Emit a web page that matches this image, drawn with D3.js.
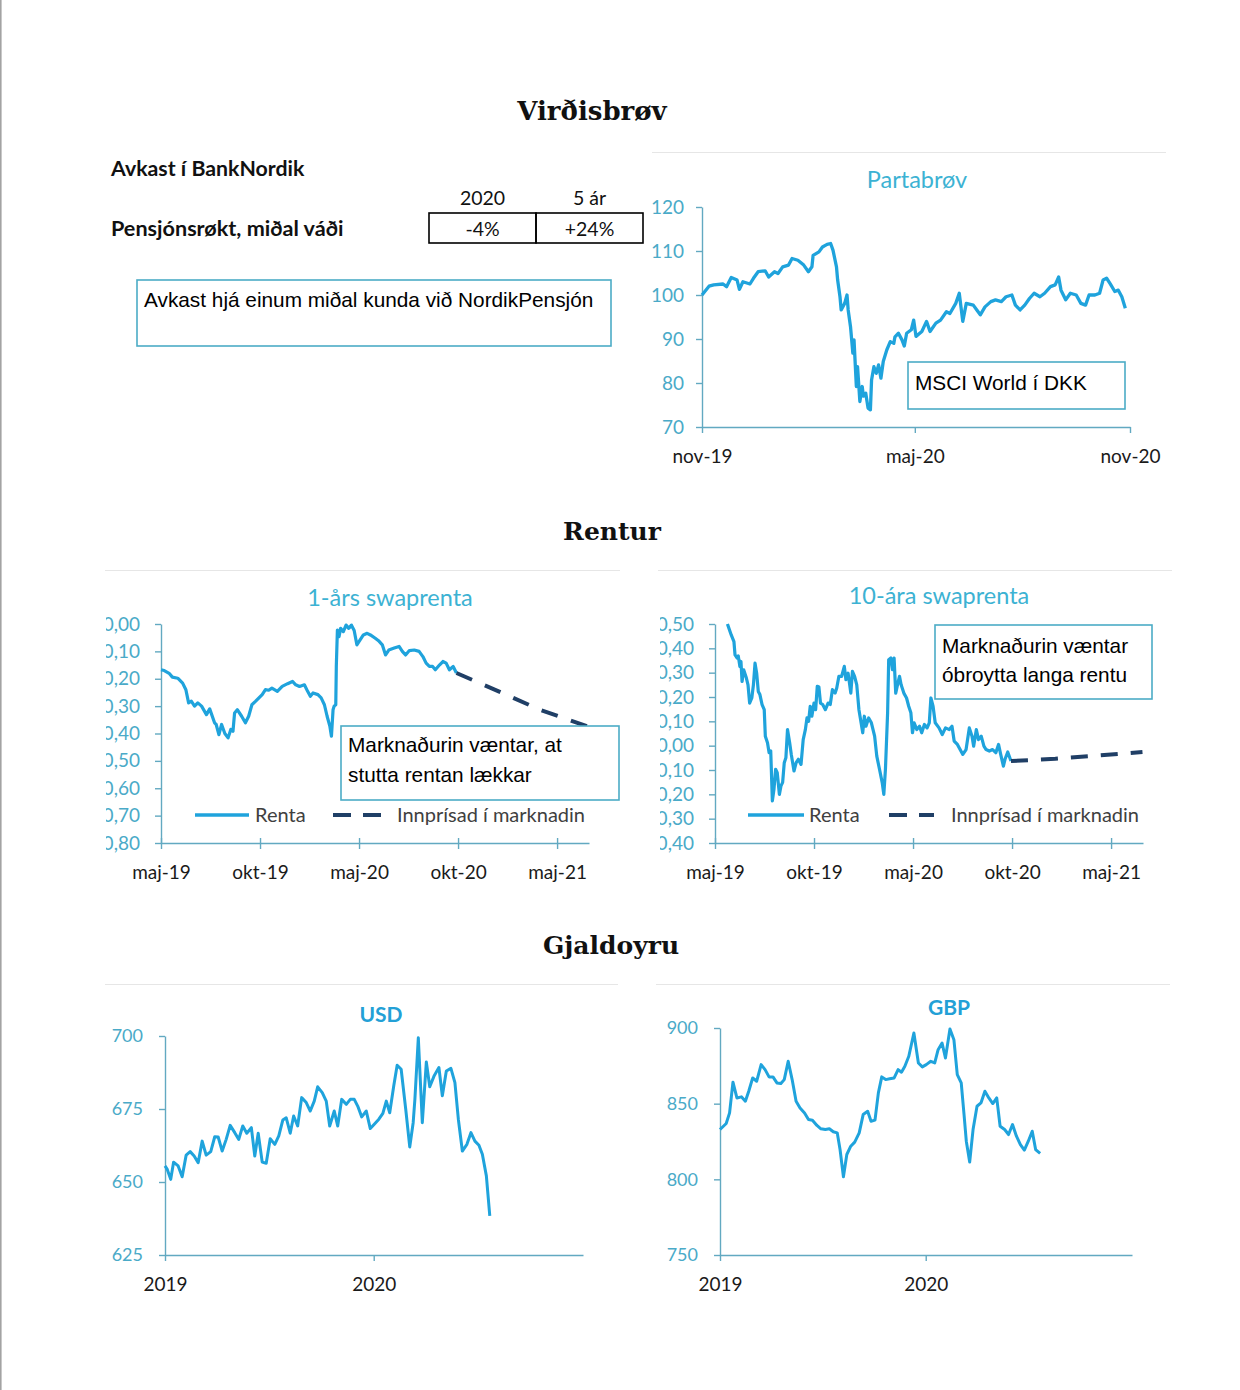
<!DOCTYPE html>
<html><head><meta charset="utf-8">
<script src="https://cdn.jsdelivr.net/npm/d3@7"></script>
<style>
html,body{margin:0;padding:0;background:#fff;}
svg{display:block;}
</style>
</head><body>
<script>
// ---------- DATA ----------
const sectionTitles = ["Virðisbrøv", "Rentur", "Gjaldoyru"];
const tableHeaders = ["2020", "5 ár"];
const tableValues = ["-4%", "+24%"];

const partabrovTickDates = ["2019-11-01", "2020-05-01", "2020-11-01"];
const partabrovTickLabels = ["nov-19", "maj-20", "nov-20"];
const partabrovYTicks = [70, 80, 90, 100, 110, 120];
const partabrov = [
["2019-11-01",100.0],["2019-11-07",102.0],["2019-11-11",102.3],["2019-11-19",102.5],["2019-11-22",101.9],["2019-11-26",104.0],["2019-12-01",103.4],["2019-12-03",101.3],["2019-12-06",103.0],["2019-12-12",102.5],["2019-12-15",103.8],["2019-12-19",105.3],["2019-12-25",105.5],["2019-12-28",104.1],["2020-01-02",105.3],["2020-01-05",104.9],["2020-01-09",106.4],["2020-01-14",106.8],["2020-01-17",108.3],["2020-01-22",107.9],["2020-01-27",106.8],["2020-01-31",105.3],["2020-02-03",106.4],["2020-02-04",109.0],["2020-02-09",109.8],["2020-02-12",110.9],["2020-02-16",111.5],["2020-02-19",111.7],["2020-02-21",110.2],["2020-02-24",106.4],["2020-02-25",103.4],["2020-02-27",99.6],["2020-02-28",96.6],["2020-03-02",98.1],["2020-03-04",100.0],["2020-03-05",96.6],["2020-03-07",92.8],["2020-03-09",86.8],["2020-03-10",89.8],["2020-03-12",79.2],["2020-03-13",83.7],["2020-03-15",75.8],["2020-03-17",79.2],["2020-03-18",77.0],["2020-03-20",77.7],["2020-03-22",74.3],["2020-03-24",73.9],["2020-03-25",80.7],["2020-03-27",83.7],["2020-03-29",82.2],["2020-03-31",84.1],["2020-04-02",81.1],["2020-04-04",84.9],["2020-04-07",87.5],["2020-04-10",89.4],["2020-04-13",89.0],["2020-04-14",90.5],["2020-04-17",91.3],["2020-04-20",89.8],["2020-04-22",88.4],["2020-04-24",91.3],["2020-04-28",92.1],["2020-04-30",94.3],["2020-05-02",90.6],["2020-05-07",91.7],["2020-05-11",94.0],["2020-05-14",91.7],["2020-05-19",93.6],["2020-05-23",94.3],["2020-05-28",96.2],["2020-05-31",95.8],["2020-06-05",98.1],["2020-06-08",100.4],["2020-06-11",94.0],["2020-06-14",98.1],["2020-06-20",97.7],["2020-06-23",96.6],["2020-06-26",95.5],["2020-06-30",97.3],["2020-07-05",98.5],["2020-07-09",98.9],["2020-07-14",98.5],["2020-07-18",99.6],["2020-07-23",100.0],["2020-07-26",97.7],["2020-07-30",96.6],["2020-08-03",97.7],["2020-08-07",99.2],["2020-08-11",100.4],["2020-08-16",99.6],["2020-08-20",100.4],["2020-08-25",101.9],["2020-08-29",102.3],["2020-09-01",104.1],["2020-09-03",101.1],["2020-09-07",98.9],["2020-09-11",100.4],["2020-09-16",100.0],["2020-09-20",98.1],["2020-09-24",97.7],["2020-09-27",100.0],["2020-10-02",100.0],["2020-10-06",100.4],["2020-10-09",103.4],["2020-10-12",103.8],["2020-10-15",102.6],["2020-10-19",100.8],["2020-10-22",101.1],["2020-10-25",99.6],["2020-10-28",97.0]
];

const swapTickDates = ["2019-05-01", "2019-10-31", "2020-05-01", "2020-10-31", "2021-05-02"];
const swapTickLabels = ["maj-19", "okt-19", "maj-20", "okt-20", "maj-21"];
const swap1YTicks = [0, -0.1, -0.2, -0.3, -0.4, -0.5, -0.6, -0.7, -0.8];
const swap10YTicks = [0.5, 0.4, 0.3, 0.2, 0.1, 0, -0.1, -0.2, -0.3, -0.4];
const legendLabels = ["Renta", "Innprísad í marknadin"];

const swap1Renta = [
["2019-05-01",-0.167],["2019-05-07",-0.170],["2019-05-16",-0.180],["2019-05-22",-0.194],["2019-06-01",-0.198],["2019-06-10",-0.216],["2019-06-16",-0.240],["2019-06-21",-0.288],["2019-06-26",-0.282],["2019-07-02",-0.300],["2019-07-08",-0.288],["2019-07-15",-0.300],["2019-07-24",-0.331],["2019-07-30",-0.310],["2019-08-08",-0.361],["2019-08-11",-0.367],["2019-08-16",-0.404],["2019-08-21",-0.367],["2019-08-27",-0.400],["2019-09-02",-0.416],["2019-09-07",-0.385],["2019-09-11",-0.392],["2019-09-14",-0.325],["2019-09-19",-0.313],["2019-09-27",-0.337],["2019-10-04",-0.361],["2019-10-10",-0.337],["2019-10-16",-0.295],["2019-10-23",-0.282],["2019-10-29",-0.270],["2019-11-04",-0.258],["2019-11-10",-0.240],["2019-11-16",-0.242],["2019-11-22",-0.234],["2019-12-02",-0.246],["2019-12-11",-0.228],["2019-12-21",-0.218],["2019-12-30",-0.210],["2020-01-05",-0.222],["2020-01-12",-0.228],["2020-01-21",-0.222],["2020-01-27",-0.246],["2020-02-01",-0.264],["2020-02-06",-0.252],["2020-02-15",-0.258],["2020-02-21",-0.270],["2020-02-27",-0.295],["2020-03-03",-0.337],["2020-03-08",-0.373],["2020-03-11",-0.410],["2020-03-14",-0.313],["2020-03-16",-0.300],["2020-03-19",-0.295],["2020-03-20",-0.155],["2020-03-22",-0.022],["2020-03-25",-0.046],["2020-03-28",-0.016],["2020-04-02",-0.028],["2020-04-07",-0.004],["2020-04-12",-0.016],["2020-04-17",-0.004],["2020-04-22",-0.024],["2020-04-27",-0.076],["2020-05-03",-0.058],["2020-05-09",-0.040],["2020-05-16",-0.034],["2020-05-22",-0.040],["2020-05-31",-0.052],["2020-06-06",-0.061],["2020-06-13",-0.076],["2020-06-19",-0.113],["2020-06-25",-0.095],["2020-07-05",-0.088],["2020-07-14",-0.082],["2020-07-20",-0.100],["2020-07-26",-0.113],["2020-08-02",-0.097],["2020-08-11",-0.095],["2020-08-20",-0.100],["2020-08-27",-0.119],["2020-09-02",-0.143],["2020-09-08",-0.155],["2020-09-14",-0.155],["2020-09-19",-0.167],["2020-09-27",-0.149],["2020-10-03",-0.137],["2020-10-09",-0.143],["2020-10-15",-0.167],["2020-10-22",-0.155],["2020-10-25",-0.167],["2020-10-28",-0.179]
];
const swap1Market = [["2020-10-28",-0.179],["2021-01-14",-0.246],["2021-03-31",-0.313],["2021-06-26",-0.373]];

const swap10Renta = [
["2019-05-24",0.500],["2019-05-31",0.455],["2019-06-05",0.428],["2019-06-07",0.373],["2019-06-11",0.360],["2019-06-13",0.369],["2019-06-16",0.325],["2019-06-18",0.346],["2019-06-20",0.264],["2019-06-23",0.312],["2019-06-28",0.278],["2019-07-01",0.250],["2019-07-04",0.175],["2019-07-08",0.196],["2019-07-11",0.250],["2019-07-14",0.339],["2019-07-17",0.298],["2019-07-20",0.223],["2019-07-23",0.210],["2019-07-27",0.169],["2019-07-31",0.148],["2019-08-02",0.039],["2019-08-06",0.012],["2019-08-09",-0.029],["2019-08-12",-0.022],["2019-08-15",-0.227],["2019-08-18",-0.179],["2019-08-21",-0.097],["2019-08-24",-0.111],["2019-08-28",-0.200],["2019-08-31",-0.165],["2019-09-03",-0.151],["2019-09-06",-0.070],["2019-09-09",-0.050],["2019-09-12",0.066],["2019-09-16",0.012],["2019-09-19",-0.036],["2019-09-24",-0.104],["2019-09-28",-0.070],["2019-10-02",-0.056],["2019-10-07",-0.077],["2019-10-11",0.025],["2019-10-15",0.066],["2019-10-18",0.114],["2019-10-21",0.100],["2019-10-24",0.162],["2019-10-27",0.121],["2019-10-31",0.175],["2019-11-03",0.148],["2019-11-06",0.244],["2019-11-09",0.241],["2019-11-12",0.175],["2019-11-16",0.169],["2019-11-21",0.148],["2019-11-26",0.175],["2019-11-30",0.169],["2019-12-04",0.230],["2019-12-09",0.216],["2019-12-12",0.237],["2019-12-16",0.285],["2019-12-21",0.285],["2019-12-26",0.326],["2019-12-29",0.271],["2020-01-02",0.298],["2020-01-07",0.216],["2020-01-10",0.305],["2020-01-14",0.285],["2020-01-18",0.250],["2020-01-22",0.148],["2020-01-26",0.094],["2020-01-29",0.053],["2020-02-01",0.121],["2020-02-04",0.080],["2020-02-09",0.114],["2020-02-14",0.094],["2020-02-20",0.039],["2020-02-24",-0.043],["2020-02-29",-0.097],["2020-03-05",-0.152],["2020-03-08",-0.200],["2020-03-11",-0.097],["2020-03-15",0.135],["2020-03-17",0.353],["2020-03-21",0.360],["2020-03-24",0.312],["2020-03-27",0.360],["2020-03-30",0.216],["2020-04-03",0.257],["2020-04-06",0.285],["2020-04-09",0.250],["2020-04-14",0.216],["2020-04-19",0.196],["2020-04-23",0.162],["2020-04-27",0.135],["2020-04-30",0.053],["2020-05-03",0.094],["2020-05-08",0.066],["2020-05-13",0.080],["2020-05-17",0.053],["2020-05-22",0.087],["2020-05-27",0.073],["2020-05-31",0.094],["2020-06-03",0.196],["2020-06-07",0.162],["2020-06-11",0.094],["2020-06-18",0.073],["2020-06-24",0.046],["2020-06-30",0.073],["2020-07-07",0.066],["2020-07-12",0.080],["2020-07-16",0.019],["2020-07-22",0.005],["2020-07-27",-0.016],["2020-08-01",-0.036],["2020-08-07",-0.016],["2020-08-13",0.073],["2020-08-18",0.039],["2020-08-21",-0.002],["2020-08-26",0.066],["2020-08-30",0.025],["2020-09-04",0.039],["2020-09-09",-0.002],["2020-09-13",-0.016],["2020-09-19",-0.022],["2020-09-25",-0.016],["2020-10-01",-0.029],["2020-10-06",0.005],["2020-10-10",-0.036],["2020-10-15",-0.084],["2020-10-18",-0.056],["2020-10-23",-0.026],["2020-10-29",-0.063]
];
const swap10Market = [["2020-10-29",-0.063],["2021-01-19",-0.054],["2021-04-10",-0.040],["2021-06-29",-0.026]];

const fxTickDates = ["2019-01-01", "2020-01-01"];
const fxTickLabels = ["2019", "2020"];
const usdYTicks = [625, 650, 675, 700];
const gbpYTicks = [750, 800, 850, 900];
const usd = [
["2019-01-01",655.5],["2019-01-05",654.3],["2019-01-11",650.9],["2019-01-16",656.8],["2019-01-24",655.5],["2019-01-31",651.8],["2019-02-07",659.2],["2019-02-14",660.4],["2019-02-21",658.9],["2019-02-28",656.6],["2019-03-07",664.0],["2019-03-14",659.2],["2019-03-22",660.4],["2019-03-29",665.5],["2019-04-04",665.4],["2019-04-11",660.6],["2019-04-18",664.6],["2019-04-25",669.4],["2019-05-03",666.9],["2019-05-10",664.6],["2019-05-17",669.2],["2019-05-24",666.7],["2019-06-01",668.6],["2019-06-07",658.9],["2019-06-13",666.7],["2019-06-20",656.8],["2019-06-27",656.4],["2019-07-04",664.8],["2019-07-12",662.9],["2019-07-19",665.8],["2019-07-26",671.2],["2019-08-01",672.0],["2019-08-08",666.7],["2019-08-14",672.6],["2019-08-21",669.2],["2019-08-28",678.9],["2019-09-05",677.2],["2019-09-12",674.3],["2019-09-19",677.7],["2019-09-25",682.6],["2019-10-03",680.6],["2019-10-10",677.7],["2019-10-16",669.2],["2019-10-24",674.3],["2019-10-30",669.2],["2019-11-06",678.3],["2019-11-14",676.6],["2019-11-21",678.3],["2019-11-28",678.3],["2019-12-04",676.0],["2019-12-11",672.3],["2019-12-19",674.3],["2019-12-26",668.3],["2020-01-02",669.8],["2020-01-10",671.5],["2020-01-17",673.5],["2020-01-23",677.7],["2020-01-29",673.7],["2020-02-05",682.9],["2020-02-11",690.0],["2020-02-18",688.6],["2020-02-26",674.9],["2020-03-04",662.0],["2020-03-10",670.3],["2020-03-13",678.3],["2020-03-19",699.4],["2020-03-26",670.3],["2020-04-02",691.1],["2020-04-08",682.6],["2020-04-16",686.5],["2020-04-24",689.2],["2020-04-30",679.5],["2020-05-07",688.0],["2020-05-15",688.9],["2020-05-22",684.0],["2020-05-28",671.5],["2020-06-04",660.6],["2020-06-12",662.9],["2020-06-19",666.9],["2020-06-26",664.0],["2020-07-03",662.6],["2020-07-09",659.5],["2020-07-16",652.1],["2020-07-22",638.4]
];
const gbp = [
["2019-01-01",832.9],["2019-01-07",835.1],["2019-01-12",836.9],["2019-01-18",843.9],["2019-01-24",864.2],["2019-01-31",853.8],["2019-02-08",854.5],["2019-02-15",851.6],["2019-02-21",858.2],["2019-02-28",867.0],["2019-03-07",864.8],["2019-03-15",875.8],["2019-03-22",872.5],["2019-03-29",867.7],["2019-04-05",867.7],["2019-04-12",863.7],["2019-04-19",863.3],["2019-04-25",865.9],["2019-05-02",878.0],["2019-05-09",865.9],["2019-05-16",851.6],["2019-05-23",847.2],["2019-05-31",843.9],["2019-06-07",839.5],["2019-06-14",839.1],["2019-06-22",835.6],["2019-06-29",833.4],["2019-07-07",832.9],["2019-07-14",833.4],["2019-07-21",831.4],["2019-07-28",830.7],["2019-08-02",819.7],["2019-08-08",801.7],["2019-08-14",816.4],["2019-08-21",821.9],["2019-08-28",824.6],["2019-09-05",830.7],["2019-09-12",842.8],["2019-09-20",845.0],["2019-09-26",838.4],["2019-10-03",839.1],["2019-10-09",857.1],["2019-10-15",867.7],["2019-10-22",865.9],["2019-10-29",866.4],["2019-11-06",867.0],["2019-11-13",872.5],["2019-11-19",870.8],["2019-11-25",874.7],["2019-12-02",881.3],["2019-12-11",896.7],["2019-12-19",876.9],["2019-12-26",874.3],["2020-01-02",875.8],["2020-01-10",878.0],["2020-01-17",876.9],["2020-01-23",885.7],["2020-01-30",890.1],["2020-02-05",880.2],["2020-02-13",899.3],["2020-02-20",892.3],["2020-02-26",869.2],["2020-03-04",863.7],["2020-03-09",842.8],["2020-03-13",825.2],["2020-03-19",811.4],["2020-03-25",832.9],["2020-04-01",848.3],["2020-04-08",850.5],["2020-04-15",858.2],["2020-04-22",853.8],["2020-04-29",850.1],["2020-05-06",853.8],["2020-05-12",835.1],["2020-05-20",832.9],["2020-05-27",829.6],["2020-06-03",836.2],["2020-06-10",828.5],["2020-06-17",823.0],["2020-06-24",819.3],["2020-07-01",825.2],["2020-07-08",831.8],["2020-07-14",819.7],["2020-07-22",817.1]
];

// ---------- DRAWING ----------
const W = 1240, H = 1390;
const parse = d3.timeParse("%Y-%m-%d");
const LINE = "#1fa3dc", NAVY = "#203f66", TEAL = "#4aaac8", AXIS = "#62a9c1", BOX = "#4bacc6";
const SANS = "Lato, 'Open Sans', sans-serif";
const ARIAL = "'Liberation Sans', Arial, sans-serif";
const SERIF = "'DejaVu Serif', 'Liberation Serif', serif";

const svg = d3.select("body").append("svg").attr("width", W).attr("height", H);
svg.append("rect").attr("width", W).attr("height", H).attr("fill", "#fff");
svg.append("line").attr("x1", 0.8).attr("x2", 0.8).attr("y1", 0).attr("y2", H)
  .attr("stroke", "#a3a3a3").attr("stroke-width", 1.6);

function text(x, y, s, o = {}) {
  return svg.append("text").attr("x", x).attr("y", y).text(s)
    .attr("font-family", o.family || SANS).attr("font-size", o.size || 19)
    .attr("font-weight", o.weight || "normal").attr("fill", o.fill || "#111")
    .attr("text-anchor", o.anchor || "start");
}

// section titles
text(592, 120, sectionTitles[0], {family: SERIF, size: 26, weight: "bold", anchor: "middle"});
text(612, 540, sectionTitles[1], {family: SERIF, size: 25, weight: "bold", anchor: "middle"});
text(611, 954, sectionTitles[2], {family: SERIF, size: 25, weight: "bold", anchor: "middle"});

// top-left table
text(111, 176, "Avkast í BankNordik", {weight: "bold", size: 21.3});
text(111, 236, "Pensjónsrøkt, miðal váði", {weight: "bold", size: 21.6});
const colX = [429, 536, 643];
tableHeaders.forEach((h, i) => text((colX[i] + colX[i + 1]) / 2, 205, h, {anchor: "middle", size: 19.5}));
tableValues.forEach((v, i) => {
  svg.append("rect").attr("x", colX[i]).attr("y", 213).attr("width", colX[i + 1] - colX[i]).attr("height", 30)
    .attr("fill", "none").attr("stroke", "#000").attr("stroke-width", 1.6);
  text((colX[i] + colX[i + 1]) / 2, 236, v, {anchor: "middle", size: 19.5});
});

function box(x, y, w, h, lines, ys) {
  svg.append("rect").attr("x", x).attr("y", y).attr("width", w).attr("height", h)
    .attr("fill", "#fff").attr("stroke", BOX).attr("stroke-width", 1.6);
  lines.forEach((l, i) => text(x + 7, ys[i], l, {family: ARIAL, size: 20.8, fill: "#000"}));
}
box(137, 280, 474, 66, ["Avkast hjá einum miðal kunda við NordikPensjón"], [307]);

function sepLine(x1, x2, y) {
  svg.append("line").attr("x1", x1).attr("x2", x2).attr("y1", y).attr("y2", y)
    .attr("stroke", "#e6e6e6").attr("stroke-width", 1.2);
}

function chart(o) {
  const x = d3.scaleTime().domain(o.xDomain.map(parse)).range([o.x0, o.x1]);
  const y = d3.scaleLinear().domain(o.yDomain).range([o.yB, o.yT]);
  const g = svg.append("g");
  if (o.clipX != null) {
    const id = "clip" + Math.round(o.x0);
    svg.append("clipPath").attr("id", id).append("rect")
      .attr("x", o.clipX).attr("y", o.yT - 20).attr("width", o.x0 - o.clipX + 10).attr("height", o.yB - o.yT + 40);
    g.attr("clip-path", `url(#${id})`);
  }
  const ya = g.append("g").attr("transform", `translate(${o.x0},0)`)
    .call(d3.axisLeft(y).tickValues(o.yTicks).tickSizeInner(6).tickSizeOuter(0).tickPadding(o.yPad)
      .tickFormat(o.yFmt));
  ya.select(".domain").attr("stroke", AXIS).attr("stroke-width", 1.4);
  ya.selectAll(".tick line").attr("stroke", AXIS).attr("stroke-width", 1.4);
  ya.selectAll(".tick text").attr("fill", TEAL).attr("font-family", SANS).attr("font-size", o.yFont || 19);

  const xa = svg.append("g").attr("transform", `translate(0,${o.yB})`)
    .call(d3.axisBottom(x).tickValues(o.xTicks.map(parse)).tickSizeInner(6).tickSizeOuter(0).tickPadding(17)
      .tickFormat((d, i) => o.xLabels[i]));
  xa.select(".domain").attr("stroke", AXIS).attr("stroke-width", 1.4);
  xa.selectAll(".tick line").attr("stroke", AXIS).attr("stroke-width", 1.4).attr("y1", o.crossTicks ? -5 : 0);
  xa.selectAll(".tick text").attr("fill", "#1a1a1a").attr("font-family", SANS).attr("font-size", 19);

  const line = d3.line().x(d => x(parse(d[0]))).y(d => y(d[1])).curve(d3.curveLinear);
  o.series.forEach(s => {
    svg.append("path").datum(s.data).attr("d", line).attr("fill", "none")
      .attr("stroke", s.color).attr("stroke-width", s.width).attr("stroke-linejoin", "round")
      .attr("stroke-dasharray", s.dash || null);
  });
  return {x, y};
}

// Partabrøv
sepLine(652, 1166, 152.5);
text(917, 188, "Partabrøv", {anchor: "middle", size: 23.5, fill: "#3cb2d3"});
chart({
  xDomain: ["2019-11-01", "2020-11-01"], x0: 702, x1: 1130,
  yDomain: [70, 120], yB: 427, yT: 207, yTicks: partabrovYTicks, yPad: 12,
  yFmt: d3.format("d"), xTicks: partabrovTickDates, xLabels: partabrovTickLabels,
  series: [{data: partabrov, color: LINE, width: 3.3}]
});
box(908, 362, 217, 47, ["MSCI World í DKK"], [390]);

// swap legends
function legend(x1, x2, tx1, dx1, dx2, tx2, y) {
  svg.append("line").attr("x1", x1).attr("x2", x2).attr("y1", y).attr("y2", y)
    .attr("stroke", LINE).attr("stroke-width", 3.5);
  text(tx1, y + 7, legendLabels[0], {size: 20, fill: "#404040"});
  svg.append("line").attr("x1", dx1).attr("x2", dx2).attr("y1", y).attr("y2", y)
    .attr("stroke", NAVY).attr("stroke-width", 4).attr("stroke-dasharray", "18,12");
  text(tx2, y + 7, legendLabels[1], {size: 20, fill: "#404040"});
}
const commaFmt = d => d3.format(".2f")(d).replace(".", ",").replace("−", "-");

// 1-års swaprenta
sepLine(105, 620, 570.5);
text(390, 606, "1-års swaprenta", {anchor: "middle", size: 23.5, fill: "#3cb2d3"});
chart({
  xDomain: ["2019-05-01", "2021-06-30"], x0: 161, x1: 589,
  yDomain: [-0.8, 0], yB: 843, yT: 624, yTicks: swap1YTicks, yPad: 15, clipX: 106,
  yFmt: commaFmt, xTicks: swapTickDates, xLabels: swapTickLabels, crossTicks: true,
  series: [{data: swap1Renta, color: LINE, width: 3.2}, {data: swap1Market, color: NAVY, width: 4, dash: "17,14"}]
});
box(341, 726, 278, 74, ["Marknaðurin væntar, at", "stutta rentan lækkar"], [752, 782]);
legend(195, 249, 255, 333, 381, 397, 815);

// 10-ára swaprenta
sepLine(658, 1172, 570.5);
text(939, 604, "10-ára swaprenta", {anchor: "middle", size: 23.5, fill: "#3cb2d3"});
chart({
  xDomain: ["2019-05-01", "2021-06-30"], x0: 715, x1: 1143,
  yDomain: [-0.4, 0.5], yB: 843, yT: 624, yTicks: swap10YTicks, yPad: 15, clipX: 660,
  yFmt: commaFmt, xTicks: swapTickDates, xLabels: swapTickLabels, crossTicks: true,
  series: [{data: swap10Renta, color: LINE, width: 3.2}, {data: swap10Market, color: NAVY, width: 4, dash: "17,13"}]
});
box(935, 625, 217, 74, ["Marknaðurin væntar", "óbroytta langa rentu"], [653, 682]);
legend(748, 804, 809, 889, 934, 951, 815);

// USD
sepLine(105, 618, 984.5);
text(381, 1022, "USD", {anchor: "middle", size: 21, weight: "bold", fill: "#23a0d6"});
chart({
  xDomain: ["2019-01-01", "2021-01-01"], x0: 165, x1: 583,
  yDomain: [625, 700], yB: 1255, yT: 1036, yTicks: usdYTicks, yPad: 16, yFont: 18,
  yFmt: d3.format("d"), xTicks: fxTickDates, xLabels: fxTickLabels,
  series: [{data: usd, color: LINE, width: 3}]
});

// GBP
sepLine(656, 1170, 984.5);
text(949, 1015, "GBP", {anchor: "middle", size: 21, weight: "bold", fill: "#23a0d6"});
chart({
  xDomain: ["2019-01-01", "2021-01-01"], x0: 720, x1: 1132,
  yDomain: [750, 900], yB: 1255, yT: 1028, yTicks: gbpYTicks, yPad: 16, yFont: 18,
  yFmt: d3.format("d"), xTicks: fxTickDates, xLabels: fxTickLabels,
  series: [{data: gbp, color: LINE, width: 3}]
});
</script>
</body></html>
